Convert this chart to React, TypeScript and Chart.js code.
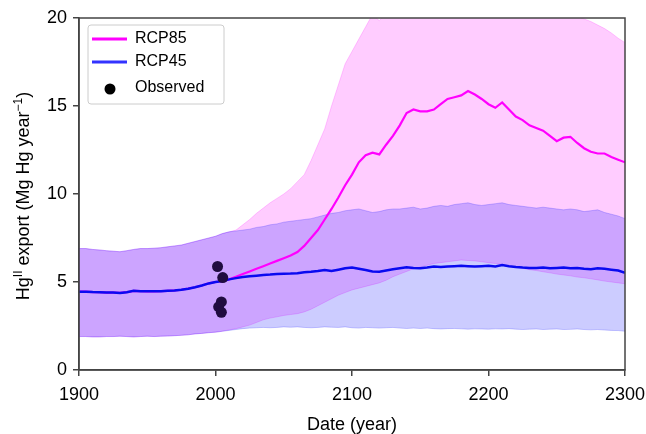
import { useEffect, useRef } from 'react';
import { Chart, registerables } from 'chart.js';
Chart.register(...registerables);

const FONT = '"Liberation Sans", Arial, Helvetica, sans-serif';

const years = [
  1900, 1905, 1910, 1915, 1920, 1925, 1930, 1935, 1940, 1945,
  1950, 1955, 1960, 1965, 1970, 1975, 1980, 1985, 1990, 1995,
  2000, 2005, 2010, 2015, 2020, 2025, 2030, 2035, 2040, 2045,
  2050, 2055, 2060, 2065, 2070, 2075, 2080, 2085, 2090, 2095,
  2100, 2105, 2110, 2115, 2120, 2125, 2130, 2135, 2140, 2145,
  2150, 2155, 2160, 2165, 2170, 2175, 2180, 2185, 2190, 2195,
  2200, 2205, 2210, 2215, 2220, 2225, 2230, 2235, 2240, 2245,
  2250, 2255, 2260, 2265, 2270, 2275, 2280, 2285, 2290, 2295,
  2300,
];

const rcp45Mean = [
  4.45, 4.45, 4.43, 4.42, 4.40, 4.40, 4.38, 4.42, 4.50, 4.48,
  4.47, 4.47, 4.48, 4.50, 4.52, 4.56, 4.62, 4.70, 4.80, 4.92,
  5.00, 5.05, 5.15, 5.22, 5.28, 5.32, 5.36, 5.40, 5.42, 5.45,
  5.47, 5.48, 5.50, 5.55, 5.58, 5.62, 5.68, 5.62, 5.70, 5.78,
  5.82, 5.75, 5.68, 5.60, 5.58, 5.65, 5.72, 5.78, 5.84, 5.80,
  5.78, 5.82, 5.88, 5.85, 5.88, 5.90, 5.92, 5.90, 5.88, 5.90,
  5.92, 5.88, 5.96, 5.90, 5.85, 5.82, 5.80, 5.80, 5.82, 5.78,
  5.80, 5.82, 5.78, 5.80, 5.75, 5.72, 5.78, 5.75, 5.70, 5.65,
  5.52,
];

const rcp85Mean = [
  4.45, 4.45, 4.43, 4.42, 4.40, 4.40, 4.38, 4.42, 4.50, 4.48,
  4.47, 4.47, 4.48, 4.50, 4.52, 4.56, 4.62, 4.70, 4.80, 4.92,
  5.00, 5.05, 5.15, 5.30, 5.45, 5.60, 5.75, 5.90, 6.05, 6.20,
  6.35, 6.50, 6.70, 7.05, 7.50, 7.95, 8.55, 9.15, 9.80, 10.50,
  11.10, 11.80, 12.20, 12.35, 12.25, 12.80, 13.30, 13.90, 14.60, 14.80,
  14.70, 14.70, 14.80, 15.10, 15.40, 15.50, 15.60, 15.85, 15.65, 15.40,
  15.10, 14.90, 15.20, 14.80, 14.40, 14.20, 13.90, 13.75, 13.60, 13.30,
  13.00, 13.20, 13.25, 12.90, 12.60, 12.40, 12.30, 12.30, 12.10, 11.95,
  11.80,
];

const rcp45Upper = [
  6.90, 6.90, 6.85, 6.82, 6.78, 6.75, 6.72, 6.78, 6.85, 6.90,
  6.90, 6.92, 6.95, 7.00, 7.05, 7.10, 7.20, 7.30, 7.40, 7.50,
  7.60, 7.75, 7.85, 7.90, 7.95, 8.00, 8.10, 8.15, 8.25, 8.30,
  8.40, 8.45, 8.50, 8.55, 8.60, 8.70, 8.80, 8.90, 8.95, 9.05,
  9.10, 9.15, 9.05, 8.95, 9.00, 9.10, 9.15, 9.15, 9.20, 9.25,
  9.15, 9.20, 9.30, 9.35, 9.30, 9.40, 9.45, 9.50, 9.40, 9.35,
  9.40, 9.45, 9.50, 9.40, 9.35, 9.30, 9.25, 9.20, 9.25, 9.20,
  9.15, 9.10, 9.15, 9.10, 9.00, 9.05, 9.10, 8.95, 8.85, 8.75,
  8.60,
];

const rcp45Lower = [
  1.90, 1.90, 1.88, 1.88, 1.90, 1.90, 1.92, 1.90, 1.88, 1.90,
  1.92, 1.90, 1.92, 1.93, 1.95, 1.97, 2.00, 2.05, 2.08, 2.12,
  2.15, 2.20, 2.25, 2.30, 2.35, 2.38, 2.40, 2.42, 2.40, 2.42,
  2.45, 2.43, 2.45, 2.42, 2.40, 2.42, 2.45, 2.43, 2.42, 2.45,
  2.40, 2.38, 2.42, 2.40, 2.38, 2.40, 2.42, 2.38, 2.36, 2.38,
  2.36, 2.38, 2.35, 2.33, 2.35, 2.36, 2.34, 2.32, 2.34, 2.33,
  2.32, 2.34, 2.33, 2.35, 2.32, 2.30, 2.32, 2.33, 2.30, 2.32,
  2.33, 2.30, 2.31, 2.33, 2.30, 2.28, 2.30, 2.27, 2.25, 2.24,
  2.20,
];

const rcp85Upper = [
  6.90, 6.90, 6.85, 6.82, 6.78, 6.75, 6.72, 6.78, 6.85, 6.90,
  6.90, 6.92, 6.95, 7.00, 7.05, 7.10, 7.20, 7.30, 7.40, 7.50,
  7.60, 7.75, 7.85, 7.95, 8.25, 8.55, 8.90, 9.20, 9.50, 9.75,
  10.00, 10.30, 10.70, 11.10, 11.90, 12.80, 13.70, 15.00, 16.20, 17.40,
  18.10, 18.80, 19.50, 20.20, 19.85, 20.30, 20.60, 20.80, 21.00, 21.00,
  21.00, 21.00, 21.00, 21.00, 21.00, 21.00, 21.00, 21.00, 21.00, 21.00,
  21.00, 21.00, 21.00, 21.00, 21.00, 21.00, 21.00, 21.00, 21.00, 21.00,
  21.00, 20.80, 20.50, 20.10, 19.95, 19.80, 19.60, 19.40, 19.15, 18.85,
  18.60,
];

const rcp85Lower = [
  1.90, 1.90, 1.88, 1.88, 1.90, 1.90, 1.92, 1.90, 1.88, 1.90,
  1.92, 1.90, 1.92, 1.93, 1.95, 1.97, 2.00, 2.05, 2.08, 2.12,
  2.15, 2.20, 2.28, 2.35, 2.45, 2.55, 2.70, 2.85, 2.95, 3.02,
  3.10, 3.15, 3.20, 3.30, 3.45, 3.65, 3.85, 4.05, 4.25, 4.40,
  4.55, 4.65, 4.75, 4.85, 4.95, 5.10, 5.30, 5.45, 5.60, 5.75,
  5.85, 5.95, 6.05, 6.10, 6.15, 6.20, 6.25, 6.22, 6.20, 6.15,
  6.10, 6.05, 6.00, 5.92, 5.85, 5.78, 5.70, 5.65, 5.58, 5.52,
  5.45, 5.40, 5.35, 5.28, 5.24, 5.18, 5.12, 5.05, 5.00, 4.95,
  4.90,
];

const observedYears = [2001.5, 2005.3, 2004.3, 2002.3, 2004.3];
const observedValues = [5.88, 5.25, 3.87, 3.59, 3.28];

const xTicks = [1900, 2000, 2100, 2200, 2300];
const yTicks = [0, 5, 10, 15, 20];

const PINK_BAND = 'rgba(255,0,255,0.2)';
const BLUE_BAND = 'rgba(0,0,255,0.2)';
const MAGENTA = '#ff00ff';
const BLUE = '#0a0af0';
const OBS = '#200c40';

const framePlugin = {
  id: 'frame',
  afterDatasetsDraw(chart: any) {
    const { ctx, chartArea: a } = chart;
    ctx.save();
    ctx.strokeStyle = '#444';
    ctx.lineWidth = 1.5;
    ctx.strokeRect(a.left, a.top, a.right - a.left, a.bottom - a.top);
    ctx.restore();
  },
};

const legendPlugin = {
  id: 'customLegend',
  afterDraw(chart: any) {
    const { ctx, chartArea: a } = chart;
    const x0 = a.left + 9;
    const y0 = a.top + 7;
    const w = 136;
    const h = 79;
    ctx.save();
    ctx.beginPath();
    if (ctx.roundRect) ctx.roundRect(x0, y0, w, h, 3);
    else ctx.rect(x0, y0, w, h);
    ctx.fillStyle = 'rgba(255,255,255,0.85)';
    ctx.fill();
    ctx.strokeStyle = '#cccccc';
    ctx.lineWidth = 1;
    ctx.stroke();
    const rows = [
      { label: 'RCP85', color: MAGENTA, kind: 'line', y: y0 + 14 },
      { label: 'RCP45', color: '#3333ff', kind: 'line', y: y0 + 37 },
      { label: 'Observed', color: '#000', kind: 'dot', y: y0 + 63 },
    ];
    ctx.font = `16px ${FONT}`;
    ctx.textBaseline = 'middle';
    ctx.textAlign = 'left';
    for (const r of rows) {
      if (r.kind === 'line') {
        ctx.strokeStyle = r.color;
        ctx.lineWidth = 3;
        ctx.beginPath();
        ctx.moveTo(x0 + 4, r.y);
        ctx.lineTo(x0 + 39, r.y);
        ctx.stroke();
      } else {
        ctx.fillStyle = r.color;
        ctx.beginPath();
        ctx.arc(x0 + 22, r.y + 1, 5.5, 0, Math.PI * 2);
        ctx.fill();
      }
      ctx.fillStyle = '#000';
      ctx.fillText(r.label, x0 + 47, r.y);
    }
    ctx.restore();
  },
};

const yTitlePlugin = {
  id: 'yTitle',
  afterDraw(chart: any) {
    const { ctx, chartArea: a } = chart;
    const parts = [
      { t: 'Hg', sup: false },
      { t: 'II', sup: true },
      { t: ' export (Mg Hg year', sup: false },
      { t: '\u22121', sup: true },
      { t: ')', sup: false },
    ];
    const size = 18;
    const supSize = 12;
    ctx.save();
    let total = 0;
    const widths = parts.map((p) => {
      ctx.font = `${p.sup ? supSize : size}px ${FONT}`;
      const wd = ctx.measureText(p.t).width;
      total += wd;
      return wd;
    });
    const cx = 23;
    const cy = (a.top + a.bottom) / 2 + 2;
    ctx.translate(cx, cy);
    ctx.rotate(-Math.PI / 2);
    ctx.fillStyle = '#000';
    ctx.textBaseline = 'alphabetic';
    ctx.textAlign = 'left';
    let x = -total / 2;
    const base = 6;
    parts.forEach((p, i) => {
      ctx.font = `${p.sup ? supSize : size}px ${FONT}`;
      ctx.fillText(p.t, x, p.sup ? base - 7 : base);
      x += widths[i];
    });
    ctx.restore();
  },
};

export default function App() {
  const ref = useRef<HTMLCanvasElement>(null);
  useEffect(() => {
    if (!ref.current) return;
    const pts = (ys: number[]) => years.map((x, i) => ({ x, y: ys[i] }));
    const band = {
      pointRadius: 0,
      borderWidth: 1,
      tension: 0,
    };
    const chart = new Chart(ref.current, {
      type: 'line',
      data: {
        datasets: [
          {
            label: 'Observed',
            data: observedYears.map((x, i) => ({ x, y: observedValues[i] })),
            showLine: false,
            pointRadius: 5.5,
            pointBackgroundColor: OBS,
            pointBorderWidth: 0,
            borderColor: OBS,
            fill: false,
            order: 0,
          },
          {
            label: 'RCP45',
            data: pts(rcp45Mean),
            borderColor: BLUE,
            borderWidth: 2.5,
            pointRadius: 0,
            fill: false,
            order: 1,
          },
          {
            label: 'RCP85',
            data: pts(rcp85Mean),
            borderColor: MAGENTA,
            borderWidth: 2.2,
            pointRadius: 0,
            fill: false,
            order: 2,
          },
          {
            label: 'RCP45 upper',
            data: pts(rcp45Upper),
            borderColor: BLUE_BAND,
            backgroundColor: BLUE_BAND,
            fill: 4,
            order: 3,
            ...band,
          },
          {
            label: 'RCP45 lower',
            data: pts(rcp45Lower),
            borderColor: BLUE_BAND,
            fill: false,
            order: 4,
            ...band,
          },
          {
            label: 'RCP85 upper',
            data: pts(rcp85Upper),
            borderColor: PINK_BAND,
            backgroundColor: PINK_BAND,
            fill: 6,
            order: 5,
            ...band,
          },
          {
            label: 'RCP85 lower',
            data: pts(rcp85Lower),
            borderColor: PINK_BAND,
            fill: false,
            order: 6,
            ...band,
          },
        ],
      },
      options: {
        animation: false,
        responsive: false,
        maintainAspectRatio: false,
        events: [],
        layout: { padding: { left: 0, right: 21, top: 18, bottom: 0 } },
        plugins: {
          legend: { display: false },
          tooltip: { enabled: false },
        },
        scales: {
          x: {
            type: 'linear',
            min: 1900,
            max: 2300,
            afterBuildTicks: (s: any) => {
              s.ticks = xTicks.map((v) => ({ value: v }));
            },
            ticks: {
              color: '#000',
              font: { family: FONT, size: 18 },
              padding: 8,
              maxRotation: 0,
              callback: (v: any) => String(v),
            },
            grid: {
              drawOnChartArea: false,
              drawTicks: true,
              tickLength: 6,
              color: '#444',
              lineWidth: 1.5,
            },
            border: { display: true, color: '#444', width: 1.5 },
            title: {
              display: true,
              text: 'Date (year)',
              color: '#000',
              font: { family: FONT, size: 18, lineHeight: 1 },
              padding: 0,
            },
            afterFit: (s: any) => {
              s.height = 64;
              s.paddingLeft = 0;
              s.paddingRight = 0;
            },
          },
          y: {
            type: 'linear',
            min: 0,
            max: 20,
            afterBuildTicks: (s: any) => {
              s.ticks = yTicks.map((v) => ({ value: v }));
            },
            ticks: {
              color: '#000',
              font: { family: FONT, size: 18 },
              padding: 6,
              callback: (v: any) => String(v),
            },
            grid: {
              drawOnChartArea: false,
              drawTicks: true,
              tickLength: 6,
              color: '#444',
              lineWidth: 1.5,
            },
            border: { display: true, color: '#444', width: 1.5 },
            afterFit: (s: any) => {
              s.width = 79;
              s.paddingTop = 0;
              s.paddingBottom = 0;
            },
          },
        },
      },
      plugins: [framePlugin, legendPlugin, yTitlePlugin],
    } as any);
    return () => chart.destroy();
  }, []);
  return (
    <div style={{ position: 'absolute', left: 0, top: 0, width: 646, height: 434 }}>
      <canvas ref={ref} width={646} height={434} style={{ display: 'block' }} />
    </div>
  );
}
